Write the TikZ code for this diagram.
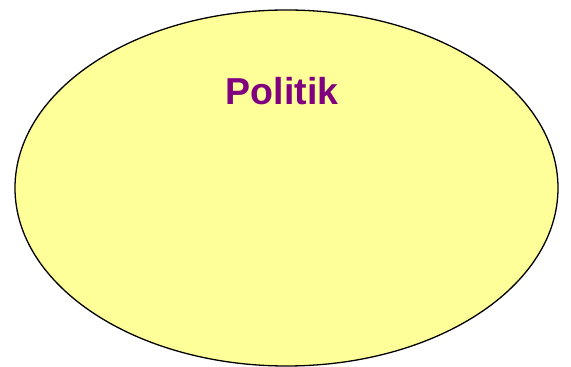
\documentclass[tikz,border=0pt]{standalone}
\usepackage{fontspec}
\setmainfont{Liberation Sans}
\usepackage{xcolor}
\usetikzlibrary{shapes.geometric,positioning}
\definecolor{paleyellow}{HTML}{FFFF99}
\definecolor{titlepurple}{HTML}{800080}

\begin{document}
\begin{tikzpicture}[x=1pt, y=1pt,
    field/.style={ellipse, draw=black, line width=1.3pt, fill=paleyellow,
        minimum width=543pt, minimum height=356pt, inner sep=0pt},
    title/.style={font=\fontsize{37.5}{40}\selectfont\bfseries, text=titlepurple, inner sep=0pt}]
    \useasboundingbox (0,0) rectangle (571,367);
    % Area
    \node[field] (politik) at (286.5,179) {};
    % Title
    \node[title, anchor=base] (politiklabel) at (282,262) {Politik};
\end{tikzpicture}
\end{document}
